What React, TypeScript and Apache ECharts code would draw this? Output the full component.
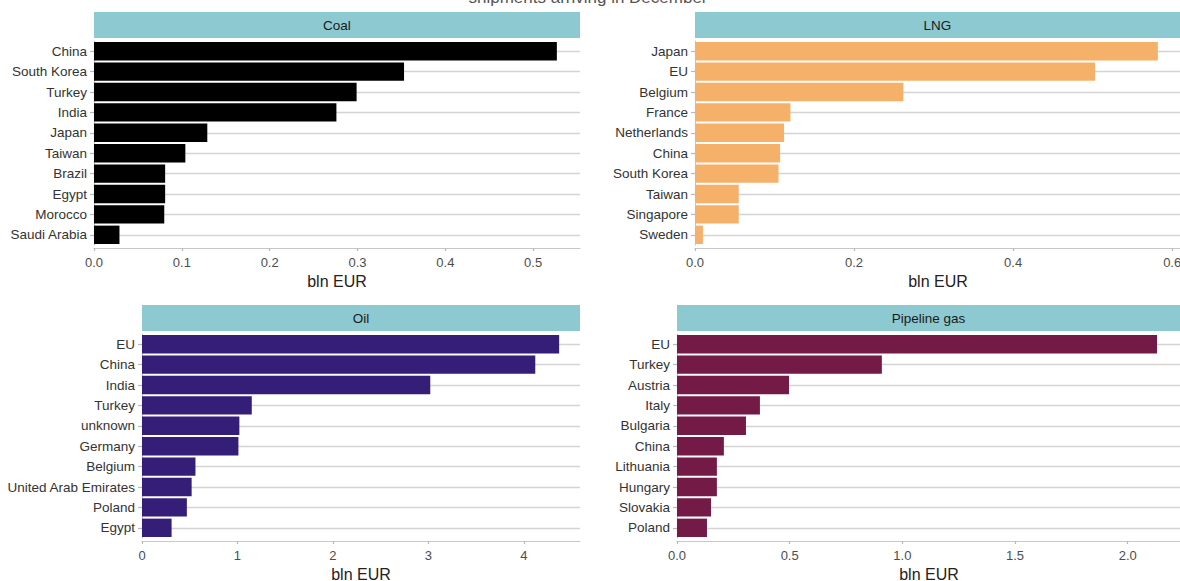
import React, { useEffect, useRef } from "react";
import * as echarts from "echarts";

const panelTitles = ["Coal", "LNG", "Oil", "Pipeline gas"];

const coalCountries = ["China", "South Korea", "Turkey", "India", "Japan", "Taiwan", "Brazil", "Egypt", "Morocco", "Saudi Arabia"];
const coalValues = [0.527, 0.353, 0.299, 0.276, 0.129, 0.104, 0.081, 0.081, 0.08, 0.029];
const coalTicks = [0, 0.1, 0.2, 0.3, 0.4, 0.5];

const lngCountries = ["Japan", "EU", "Belgium", "France", "Netherlands", "China", "South Korea", "Taiwan", "Singapore", "Sweden"];
const lngValues = [0.582, 0.503, 0.262, 0.12, 0.112, 0.107, 0.105, 0.055, 0.055, 0.01];
const lngTicks = [0, 0.2, 0.4, 0.6];

const oilCountries = ["EU", "China", "India", "Turkey", "unknown", "Germany", "Belgium", "United Arab Emirates", "Poland", "Egypt"];
const oilValues = [4.37, 4.12, 3.02, 1.15, 1.02, 1.01, 0.56, 0.52, 0.47, 0.31];
const oilTicks = [0, 1, 2, 3, 4];

const gasCountries = ["EU", "Turkey", "Austria", "Italy", "Bulgaria", "China", "Lithuania", "Hungary", "Slovakia", "Poland"];
const gasValues = [2.13, 0.909, 0.497, 0.368, 0.306, 0.208, 0.177, 0.177, 0.151, 0.133];
const gasTicks = [0, 0.5, 1, 1.5, 2];

const titleText = "shipments arriving in December";
const axisTitle = "bln EUR";

const FONT = "'Liberation Sans', Arial, sans-serif";

export default function App() {
  const ref = useRef<HTMLDivElement>(null);

  useEffect(() => {
    if (!ref.current) return;
    const chart = echarts.init(ref.current, undefined, { renderer: "svg" });

    const panels = [
      { cats: coalCountries, vals: coalValues, ticks: coalTicks, dec: 1, color: "#000000", left: 94, top: 39, width: 486 },
      { cats: lngCountries, vals: lngValues, ticks: lngTicks, dec: 1, color: "#F5B06A", left: 695, top: 39, width: 486 },
      { cats: oilCountries, vals: oilValues, ticks: oilTicks, dec: 0, color: "#351E78", left: 142, top: 332, width: 438 },
      { cats: gasCountries, vals: gasValues, ticks: gasTicks, dec: 1, color: "#731B46", left: 677, top: 332, width: 504 },
    ];
    const H = 209;
    const PAD = 2;
    const PADB = 3;

    const grids: any[] = [];
    const xAxes: any[] = [];
    const yAxes: any[] = [];
    const series: any[] = [];
    const graphics: any[] = [];

    panels.forEach((p, i) => {
      grids.push({
        left: p.left,
        top: p.top + PAD,
        width: p.width,
        height: H - PAD - PADB,
        containLabel: false,
        outerBoundsMode: "none",
      });
      const maxV = Math.max(...p.vals) * 1.05;
      xAxes.push({
        type: "value",
        gridIndex: i,
        min: 0,
        max: maxV,
        offset: PADB,
        axisLine: { show: true, lineStyle: { color: "#c8c8c8", width: 1.2 } },
        axisTick: { show: true, length: 3, customValues: p.ticks, lineStyle: { color: "#b8b8b8", width: 1.2 } },
        axisLabel: {
          customValues: p.ticks,
          formatter: (v: number) => v.toFixed(p.dec),
          color: "#4d4d4d",
          fontSize: 13,
          fontFamily: FONT,
          margin: 8,
        },
        splitLine: { show: false },
        name: axisTitle,
        nameLocation: "middle",
        nameGap: 25,
        nameTextStyle: { fontSize: 16, color: "#222", fontFamily: FONT },
      });
      yAxes.push({
        type: "category",
        gridIndex: i,
        data: p.cats,
        inverse: true,
        axisLine: { show: true, lineStyle: { color: "#c8c8c8", width: 1.2 } },
        axisTick: { show: true, alignWithLabel: true, length: 4, lineStyle: { color: "#b8b8b8", width: 1.2 } },
        axisLabel: { color: "#333", fontSize: 13.5, fontFamily: FONT, margin: 7 },
        splitLine: { show: false },
      });
      series.push({
        type: "line",
        xAxisIndex: i,
        yAxisIndex: i,
        data: [],
        silent: true,
        z: 1,
        markLine: {
          silent: true,
          z: 1,
          symbol: ["none", "none"],
          label: { show: false },
          lineStyle: { color: "#d4d4d4", width: 1.3, type: "solid" },
          data: p.cats.map((c) => ({ yAxis: c })),
        },
      });
      series.push({
        type: "bar",
        xAxisIndex: i,
        yAxisIndex: i,
        data: p.vals,
        barCategoryGap: "10%",
        z: 10,
        itemStyle: { color: p.color },
      });
      const stripTop = p.top - 27;
      const stripW = Math.min(p.width, 1180 - p.left);
      graphics.push({
        type: "rect",
        shape: { x: p.left, y: stripTop, width: stripW, height: 26 },
        style: { fill: "#8DC9D0" },
      });
      graphics.push({
        type: "text",
        style: {
          x: p.left + stripW / 2,
          y: stripTop + 13,
          text: panelTitles[i],
          align: "center",
          verticalAlign: "middle",
          fontSize: 13.5,
          fontFamily: FONT,
          fill: "#1a1a1a",
        },
      });
    });

    graphics.push({
      type: "text",
      style: {
        x: 588,
        y: 6,
        text: titleText,
        align: "center",
        verticalAlign: "bottom",
        fontSize: 17,
        fontFamily: FONT,
        fill: "#555",
      },
    });

    chart.setOption({
      animation: false,
      backgroundColor: "#ffffff",
      grid: grids,
      xAxis: xAxes,
      yAxis: yAxes,
      series,
      graphic: graphics,
    });

    return () => chart.dispose();
  }, []);

  return (
    <div
      ref={ref}
      style={{ position: "fixed", left: 0, top: 0, width: 1180, height: 581, background: "#fff" }}
    />
  );
}
